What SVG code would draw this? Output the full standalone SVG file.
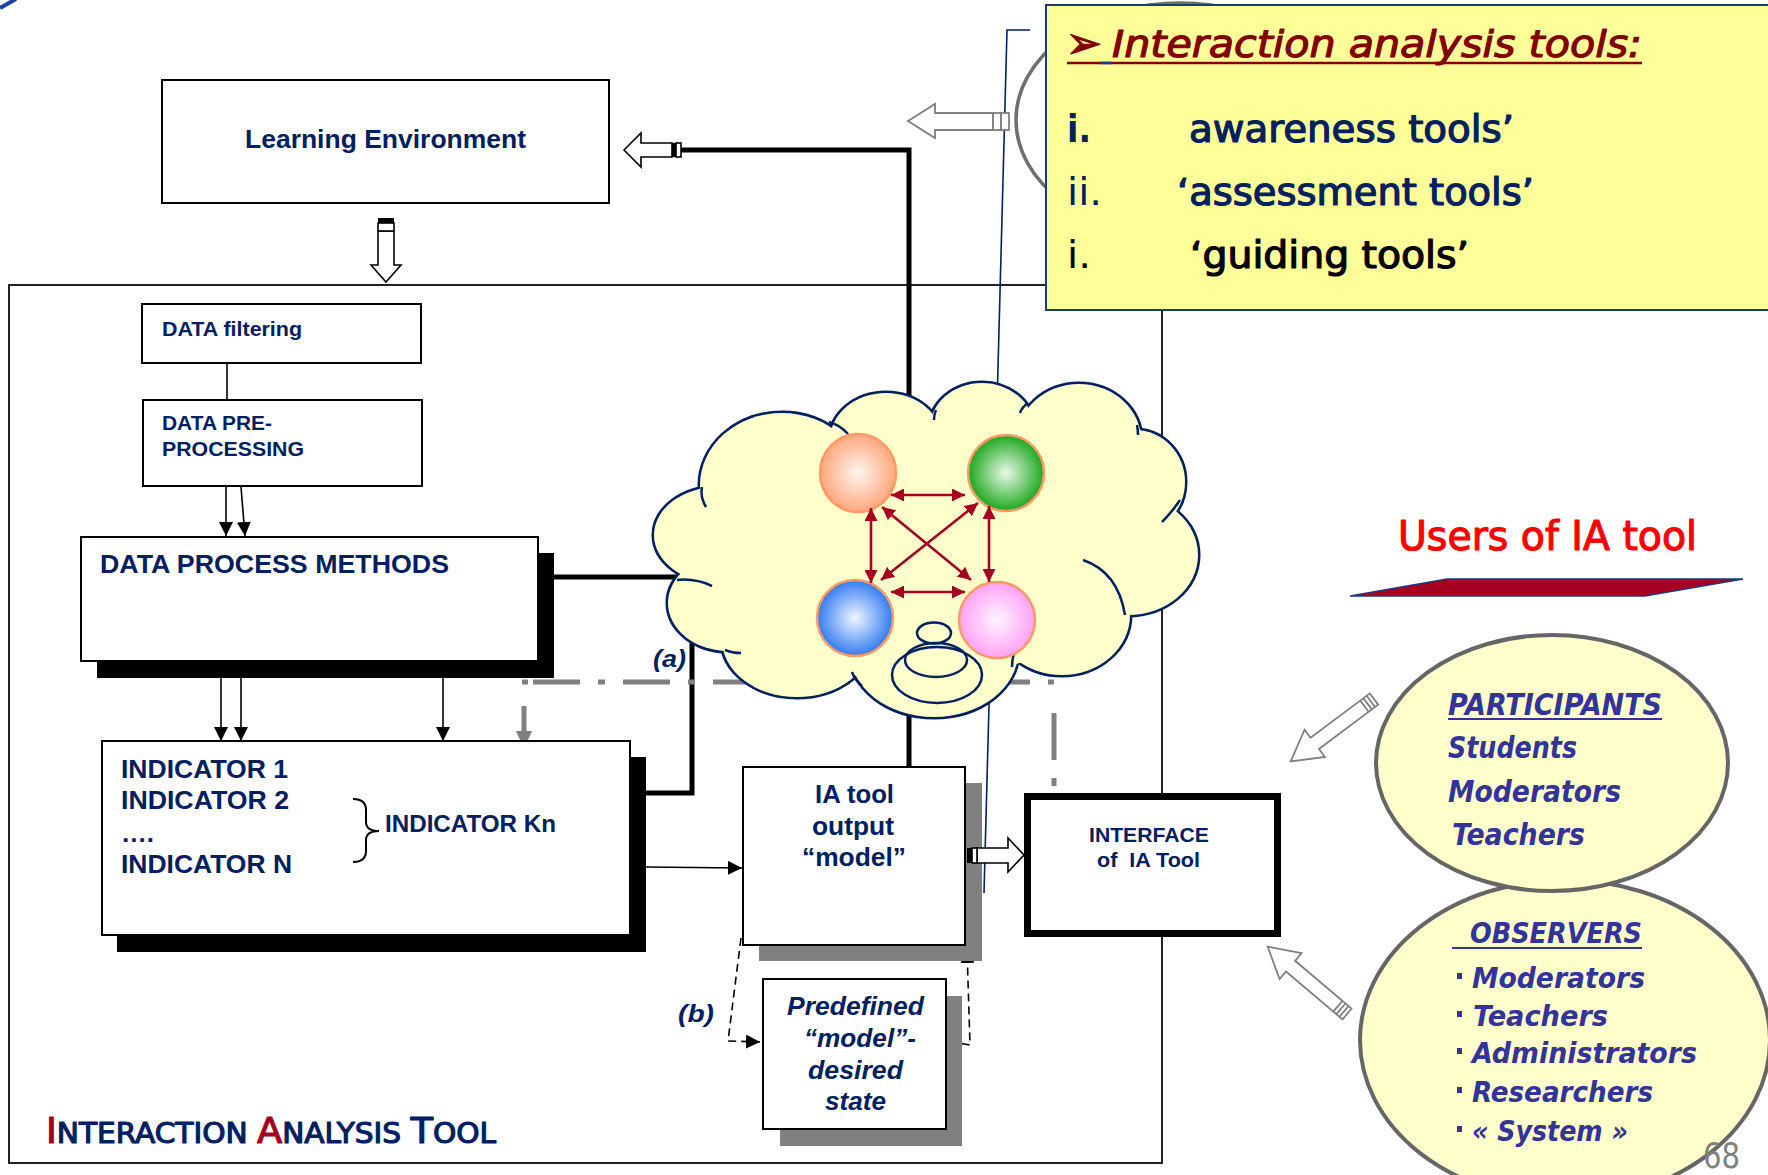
<svg xmlns="http://www.w3.org/2000/svg" width="1768" height="1175" viewBox="0 0 1768 1175">
<defs>
  <style>
    .box{fill:#fff;stroke:#000;stroke-width:2}
    .blk{fill:#000}
    .gry{fill:#808080}
    .ar{font-family:"Liberation Sans",Arial,sans-serif;font-weight:bold;fill:#002060}
    .it{font-style:italic}
    .tah{font-family:"DejaVu Sans Condensed","DejaVu Sans",sans-serif}
    .usr{font-family:"DejaVu Sans Condensed","DejaVu Sans",sans-serif;font-style:italic;font-weight:bold;fill:#333399}
    .thick{fill:none;stroke:#000;stroke-width:5}
    .thin{fill:none;stroke:#000;stroke-width:1.6}
    .dash{fill:none;stroke:#000;stroke-width:1.6;stroke-dasharray:8 5}
    .red{fill:none;stroke:#A50021;stroke-width:2.6;marker-start:url(#rh);marker-end:url(#rh)}
    .hol{fill:#fff;stroke:#000;stroke-width:1.6}
    .holg{fill:#fff;stroke:#7F7F7F;stroke-width:1.8}
    .ball{stroke:#FF9966;stroke-width:2.5}
    .cl{fill:none;stroke:#002060;stroke-width:2.5}
    .oval{fill:#FFFFCC;stroke:#666;stroke-width:4}
    .heavy{stroke-width:1.1;stroke-linejoin:round}
  </style>
  <marker id="ah" viewBox="0 0 10 10" refX="10" refY="5" markerWidth="14" markerHeight="14" markerUnits="userSpaceOnUse" orient="auto">
    <path d="M0,0 L10,5 L0,10 z" fill="#000"/>
  </marker>
  <marker id="rh" viewBox="0 0 10 10" refX="10" refY="5" markerWidth="13" markerHeight="13" markerUnits="userSpaceOnUse" orient="auto-start-reverse">
    <path d="M0,0 L10,5 L0,10 z" fill="#A50021"/>
  </marker>
  <radialGradient id="gOr" cx="0.5" cy="0.5" r="0.55"><stop offset="0" stop-color="#FFF6F0"/><stop offset="1" stop-color="#FF9F70"/></radialGradient>
  <radialGradient id="gGr" cx="0.5" cy="0.5" r="0.55"><stop offset="0" stop-color="#EAF8EA"/><stop offset="1" stop-color="#08A008"/></radialGradient>
  <radialGradient id="gBl" cx="0.5" cy="0.5" r="0.55"><stop offset="0" stop-color="#F0F6FF"/><stop offset="1" stop-color="#1F6FF0"/></radialGradient>
  <radialGradient id="gPk" cx="0.5" cy="0.5" r="0.55"><stop offset="0" stop-color="#FFF4FF"/><stop offset="1" stop-color="#FF99F5"/></radialGradient>
  <!-- hollow block arrow pointing along +x, tail at origin -->
  <g id="garrow">
    <polygon points="0,-7 74,-7 74,-17 104,0 74,17 74,7 0,7"/>
    <path d="M4,-7 V7 M8,-7 V7 M12,-7 V7" fill="none"/>
  </g>
</defs>

<rect width="1768" height="1175" fill="#fff"/>

<!-- small corner mark -->
<line x1="0" y1="8" x2="16" y2="-1" stroke="#1B3FA0" stroke-width="4"/>

<!-- ring partly hidden by the tools panel -->
<ellipse cx="1180" cy="120" rx="164" ry="117" fill="none" stroke="#6E6E6E" stroke-width="3.5"/>

<!-- outer frame of the analysis tool -->
<g id="ia-frame">
  <rect x="9" y="285" width="1153" height="878" fill="none" stroke="#222" stroke-width="2"/>
</g>

<!-- connectors -->
<g id="connectors">
  <path class="thick" d="M681,150 L909,150 L909,400"/>
  <path class="thick" d="M554,577 L690,577"/>
  <path class="thick" d="M646,793 L692,793 L692,640"/>
  <path class="thick" d="M909,700 L909,767"/>
  <path d="M1030,30 L1007,30 L984,893" fill="none" stroke="#002060" stroke-width="1.6"/>
  <path class="thin" d="M227,359 L227,400"/>
  <path class="thin" d="M226,487 L226,536" marker-end="url(#ah)"/>
  <path class="thin" d="M241,487 L245,536" marker-end="url(#ah)"/>
  <path class="thin" d="M221,678 L221,741" marker-end="url(#ah)"/>
  <path class="thin" d="M241,678 L241,741" marker-end="url(#ah)"/>
  <path class="thin" d="M443,678 L443,741" marker-end="url(#ah)"/>
  <path class="thin" d="M646,867 L742,868" marker-end="url(#ah)"/>
  <path class="dash" d="M741,938 L728,1041 L760,1042" marker-end="url(#ah)"/>
  <path class="dash" d="M949,1041 L970,1045 L967,949" marker-end="url(#ah)"/>
  <!-- (a) feedback path, dash-dot -->
  <g stroke="#808080" stroke-width="5" fill="none">
    <path d="M533,682 L1054,682" stroke-dasharray="47 18 7 18"/>
    <path d="M522,682 L528,682 M524,706 L524,731 M1054,713 L1054,760 M1054,778 L1054,786"/>
  </g>
  <polygon points="516,731 532,731 524,749" fill="#808080"/>
  <!-- hollow block arrows -->
  <polygon class="hol" points="624,150 641,133 641,143 672,143 672,157 641,157 641,167"/>
  <rect x="672" y="143" width="4" height="14" fill="#000"/>
  <rect x="676" y="143" width="5" height="14" class="hol"/>
  <polygon class="hol" points="378,231 394,231 394,265 401,265 386,282 371,265 378,265"/>
  <rect x="378" y="218" width="16" height="5" fill="#000"/>
  <rect x="378" y="223" width="16" height="8" class="hol"/>
  <polygon class="holg" points="908,121 935,104 935,113 993,113 993,130 935,130 935,138"/>
  <rect x="993" y="113" width="8" height="17" class="holg"/>
  <rect x="1001" y="113" width="8" height="17" class="holg"/>
  <use href="#garrow" class="holg" transform="translate(1374,699) rotate(143.2)"/>
  <use href="#garrow" class="holg" transform="translate(1347,1014) rotate(-139.7)"/>
</g>

<!-- interaction cloud -->
<g id="cloud">
  <g fill="none" stroke="#002060" stroke-width="5">
    <ellipse cx="782" cy="485" rx="82" ry="72"/>
    <ellipse cx="886" cy="440" rx="56" ry="47"/>
    <ellipse cx="982" cy="428" rx="52" ry="45"/>
    <ellipse cx="1079" cy="440" rx="62" ry="56"/>
    <ellipse cx="1135" cy="482" rx="50" ry="52"/>
    <ellipse cx="1128" cy="555" rx="70" ry="60"/>
    <ellipse cx="1062" cy="615" rx="68" ry="60"/>
    <ellipse cx="934" cy="652" rx="84" ry="65"/>
    <ellipse cx="797" cy="640" rx="75" ry="57"/>
    <ellipse cx="728" cy="603" rx="60" ry="48"/>
    <ellipse cx="718" cy="535" rx="64" ry="48"/>
  </g>
  <g fill="#FFFFCC">
    <ellipse cx="782" cy="485" rx="82" ry="72"/>
    <ellipse cx="886" cy="440" rx="56" ry="47"/>
    <ellipse cx="982" cy="428" rx="52" ry="45"/>
    <ellipse cx="1079" cy="440" rx="62" ry="56"/>
    <ellipse cx="1135" cy="482" rx="50" ry="52"/>
    <ellipse cx="1128" cy="555" rx="70" ry="60"/>
    <ellipse cx="1062" cy="615" rx="68" ry="60"/>
    <ellipse cx="934" cy="652" rx="84" ry="65"/>
    <ellipse cx="797" cy="640" rx="75" ry="57"/>
    <ellipse cx="728" cy="603" rx="60" ry="48"/>
    <ellipse cx="718" cy="535" rx="64" ry="48"/>
    <ellipse cx="930" cy="550" rx="210" ry="125"/>
  </g>
  <path class="cl" d="M702,487 Q700,497 706,507 M677,580 Q695,578 712,586 M725,650 Q732,653 741,653 M829,422 Q840,425 848,434 M1162,522 Q1172,512 1180,500 M1083,560 Q1118,572 1125,615 M852,672 Q855,680 862,686 M1014,653 Q1012,660 1012,667 M1020,413 Q1022,407 1028,403 M934,420 Q934,414 936,410 M1137,425 Q1138,430 1138,435"/>
  <ellipse cx="937" cy="675" rx="45" ry="28" class="cl"/>
  <ellipse cx="936" cy="660" rx="31" ry="17" class="cl"/>
  <ellipse cx="934" cy="633" rx="17" ry="10.5" class="cl"/>
  <ellipse cx="858" cy="473" rx="38" ry="39" fill="url(#gOr)" class="ball"/>
  <ellipse cx="1006" cy="473" rx="38" ry="38" fill="url(#gGr)" class="ball"/>
  <ellipse cx="855" cy="618" rx="38" ry="38" fill="url(#gBl)" class="ball"/>
  <ellipse cx="997" cy="620" rx="38" ry="38" fill="url(#gPk)" class="ball"/>
  <path class="red" d="M891,495 L965,495"/>
  <path class="red" d="M891,592 L965,592"/>
  <path class="red" d="M871,508 L871,583"/>
  <path class="red" d="M989,506 L989,582"/>
  <path class="red" d="M882,507 L971,580"/>
  <path class="red" d="M978,503 L881,580"/>
</g>

<g id="learning-environment">
  <rect class="box" x="162" y="80" width="447" height="123"/>
  <text class="ar" x="245" y="148" font-size="25" textLength="281" lengthAdjust="spacingAndGlyphs">Learning Environment</text>
</g>

<g id="data-filtering">
  <rect class="box" x="142" y="304" width="279" height="59"/>
  <text class="ar" x="162" y="336" font-size="20" textLength="140" lengthAdjust="spacingAndGlyphs">DATA filtering</text>
</g>

<g id="data-preprocessing">
  <rect class="box" x="143" y="400" width="279" height="86"/>
  <text class="ar" x="162" y="430" font-size="20" textLength="110" lengthAdjust="spacingAndGlyphs">DATA PRE-</text>
  <text class="ar" x="162" y="456" font-size="20" textLength="142" lengthAdjust="spacingAndGlyphs">PROCESSING</text>
</g>

<g id="data-process-methods">
  <rect class="blk" x="97" y="553" width="457" height="125"/>
  <rect class="box" x="81" y="537" width="457" height="124"/>
  <text class="ar" x="100" y="573" font-size="26" textLength="349" lengthAdjust="spacingAndGlyphs">DATA PROCESS METHODS</text>
</g>

<g id="indicators">
  <rect class="blk" x="117" y="757" width="529" height="195"/>
  <rect class="box" x="102" y="741" width="528" height="194"/>
  <text class="ar" x="121" y="778" font-size="26" textLength="167" lengthAdjust="spacingAndGlyphs">INDICATOR 1</text>
  <text class="ar" x="121" y="809" font-size="26" textLength="168" lengthAdjust="spacingAndGlyphs">INDICATOR 2</text>
  <text class="ar" x="121" y="842" font-size="26" textLength="33" lengthAdjust="spacingAndGlyphs">….</text>
  <text class="ar" x="121" y="873" font-size="26" textLength="171" lengthAdjust="spacingAndGlyphs">INDICATOR N</text>
  <path d="M353,799 Q366,799 366,810 L366,822 Q366,831 379,831 Q366,831 366,840 L366,851 Q366,862 353,862" fill="none" stroke="#000" stroke-width="2"/>
  <text class="ar" x="385" y="832" font-size="23" textLength="171" lengthAdjust="spacingAndGlyphs">INDICATOR Kn</text>
</g>

<g id="ia-output">
  <rect class="gry" x="759" y="783" width="223" height="178"/>
  <rect class="box" x="743" y="767" width="222" height="178"/>
  <text class="ar" x="815" y="803" font-size="25" textLength="79" lengthAdjust="spacingAndGlyphs">IA tool</text>
  <text class="ar" x="812" y="835" font-size="25" textLength="82" lengthAdjust="spacingAndGlyphs">output</text>
  <text class="ar" x="802" y="866" font-size="25" textLength="104" lengthAdjust="spacingAndGlyphs">“model”</text>
</g>

<g id="predefined-model">
  <rect class="gry" x="780" y="996" width="182" height="150"/>
  <rect class="box" x="763" y="979" width="183" height="150"/>
  <text class="ar it" x="787" y="1015" font-size="25" textLength="137" lengthAdjust="spacingAndGlyphs">Predefined</text>
  <text class="ar it" x="804" y="1047" font-size="25" textLength="112" lengthAdjust="spacingAndGlyphs">“model”-</text>
  <text class="ar it" x="808" y="1079" font-size="25" textLength="95" lengthAdjust="spacingAndGlyphs">desired</text>
  <text class="ar it" x="825" y="1110" font-size="25" textLength="61" lengthAdjust="spacingAndGlyphs">state</text>
</g>

<g id="interface">
  <rect x="1027.5" y="796.5" width="250" height="137" fill="#fff" stroke="#000" stroke-width="7"/>
  <text class="ar" x="1089" y="842" font-size="21" textLength="120" lengthAdjust="spacingAndGlyphs">INTERFACE</text>
  <text class="ar" x="1097" y="867" font-size="21" textLength="103" lengthAdjust="spacingAndGlyphs" style="white-space:pre">of  IA Tool</text>
</g>

<!-- output-to-interface block arrow -->
<polygon class="hol" points="977,848 1008,848 1008,838 1024,855 1008,872 1008,863 977,863"/>
<rect x="967" y="848" width="5" height="15" fill="#000"/>
<rect x="972" y="848" width="5" height="15" class="hol"/>

<text class="ar it" x="653" y="667" font-size="24" textLength="33" lengthAdjust="spacingAndGlyphs">(a)</text>
<text class="ar it" x="678" y="1022" font-size="24" textLength="36" lengthAdjust="spacingAndGlyphs">(b)</text>

<text class="tah heavy" x="46" y="1143" textLength="450" lengthAdjust="spacingAndGlyphs" fill="#002060" stroke="#002060"><tspan fill="#A50021" stroke="#A50021" font-size="36">I</tspan><tspan font-size="29">NTERACTION </tspan><tspan fill="#A50021" stroke="#A50021" font-size="36">A</tspan><tspan font-size="29">NALYSIS </tspan><tspan font-size="36">T</tspan><tspan font-size="29">OOL</tspan></text>

<!-- tools panel -->
<g id="tools-panel">
  <rect x="1046" y="5" width="740" height="305" fill="#FFFF99" stroke="#1F3A7A" stroke-width="2"/>
  <text class="tah heavy" x="1066" y="58" font-size="44" font-weight="bold" fill="#820000" stroke="#820000" textLength="36" lengthAdjust="spacingAndGlyphs">➢</text>
  <text class="tah it heavy" x="1112" y="57" font-size="38" fill="#820000" stroke="#820000" textLength="530" lengthAdjust="spacingAndGlyphs">Interaction analysis tools:</text>
  <line x1="1067" y1="63" x2="1642" y2="63" stroke="#820000" stroke-width="2.5"/>
  <line x1="1101" y1="63" x2="1112" y2="63" stroke="#1F3A93" stroke-width="2.5"/>
  <text class="tah" x="1067" y="142" font-size="37" font-weight="bold" fill="#002060" textLength="24" lengthAdjust="spacingAndGlyphs">i.</text>
  <text class="tah heavy" x="1189" y="142" font-size="37" fill="#002060" stroke="#002060" textLength="325" lengthAdjust="spacingAndGlyphs">awareness tools’</text>
  <text class="tah" x="1067" y="205" font-size="37" fill="#002060" textLength="35" lengthAdjust="spacingAndGlyphs">ii.</text>
  <text class="tah heavy" x="1177" y="205" font-size="37" fill="#002060" stroke="#002060" textLength="357" lengthAdjust="spacingAndGlyphs">‘assessment tools’</text>
  <text class="tah" x="1067" y="268" font-size="37" fill="#000" textLength="24" lengthAdjust="spacingAndGlyphs">i.</text>
  <text class="tah heavy" x="1190" y="268" font-size="37" fill="#000" stroke="#000" textLength="279" lengthAdjust="spacingAndGlyphs">‘guiding tools’</text>
</g>

<!-- users -->
<g id="users-title">
  <text class="tah heavy" x="1398" y="550" font-size="41" fill="#FF0000" stroke="#FF0000" textLength="299" lengthAdjust="spacingAndGlyphs">Users of IA tool</text>
  <polygon points="1350,596 1447,579 1743,579 1645,596" fill="#A50021" stroke="#1F3A7A" stroke-width="1.5"/>
</g>

<g id="observers">
  <ellipse class="oval" cx="1565" cy="1040" rx="205" ry="160"/>
  <text class="usr" x="1470" y="943" font-size="28" textLength="172" lengthAdjust="spacingAndGlyphs">OBSERVERS</text>
  <line x1="1452" y1="948" x2="1642" y2="948" stroke="#333399" stroke-width="2"/>
  <g fill="#333399">
    <rect x="1457" y="973" width="5" height="6"/>
    <rect x="1457" y="1011" width="5" height="6"/>
    <rect x="1457" y="1048" width="5" height="6"/>
    <rect x="1457" y="1087" width="5" height="6"/>
    <rect x="1457" y="1126" width="5" height="6"/>
  </g>
  <text class="usr" x="1472" y="988" font-size="28" textLength="173" lengthAdjust="spacingAndGlyphs">Moderators</text>
  <text class="usr" x="1473" y="1026" font-size="28" textLength="135" lengthAdjust="spacingAndGlyphs">Teachers</text>
  <text class="usr" x="1472" y="1063" font-size="28" textLength="225" lengthAdjust="spacingAndGlyphs">Administrators</text>
  <text class="usr" x="1472" y="1102" font-size="28" textLength="181" lengthAdjust="spacingAndGlyphs">Researchers</text>
  <text class="usr" x="1472" y="1141" font-size="28" textLength="156" lengthAdjust="spacingAndGlyphs">« System »</text>
</g>

<g id="participants">
  <ellipse class="oval" cx="1552" cy="763" rx="176" ry="128"/>
  <text class="usr" x="1448" y="715" font-size="30" textLength="214" lengthAdjust="spacingAndGlyphs">PARTICIPANTS</text>
  <line x1="1448" y1="719" x2="1662" y2="719" stroke="#333399" stroke-width="2"/>
  <text class="usr" x="1448" y="758" font-size="30" textLength="129" lengthAdjust="spacingAndGlyphs">Students</text>
  <text class="usr" x="1448" y="802" font-size="30" textLength="173" lengthAdjust="spacingAndGlyphs">Moderators</text>
  <text class="usr" x="1452" y="845" font-size="30" textLength="133" lengthAdjust="spacingAndGlyphs">Teachers</text>
</g>

<text class="tah" x="1703" y="1168" font-size="36" fill="#808080" textLength="37" lengthAdjust="spacingAndGlyphs">68</text>
</svg>
